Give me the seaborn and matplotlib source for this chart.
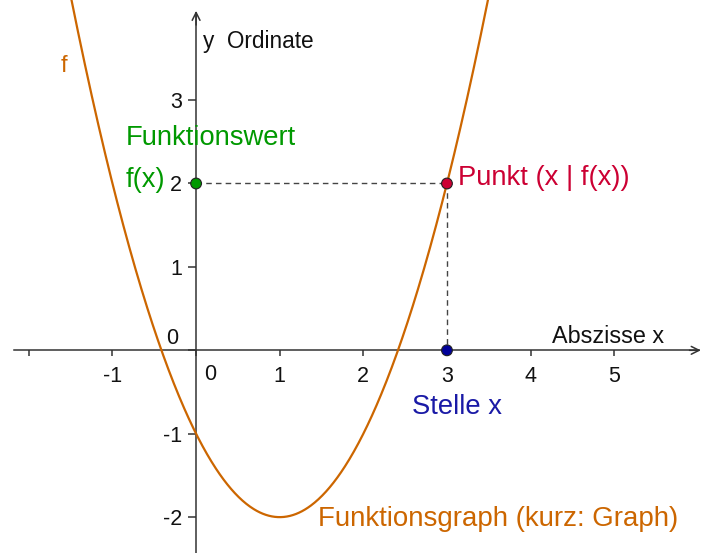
import numpy as np
import pandas as pd
import matplotlib
matplotlib.use("Agg")
import matplotlib.pyplot as plt
import seaborn as sns

# ---- data ----
coeffs = [1.0, -2.0, -1.0]          # f(x) = x^2 - 2x - 1
x_point = 3.0
fx_point = 2.0
xtick_vals = [-2, -1, 0, 1, 2, 3, 4, 5]
xtick_labels = ["", "-1", "", "1", "2", "3", "4", "5"]
ytick_vals = [-2, -1, 0, 1, 2, 3]
ytick_labels = ["-2", "-1", "", "1", "2", "3"]

ORANGE = "#CC6600"
GREEN = "#009900"
RED = "#CC0033"
BLUE = "#1A1AA6"
AXC = "#333333"

sns.set_style("white")
plt.rcParams["font.family"] = ["Liberation Sans", "DejaVu Sans"]

fig = plt.figure(figsize=(7.02, 5.53), dpi=100)
ax = fig.add_axes([0, 0, 1, 1])
XMIN, XMAX = -2.345, 6.05
YMIN, YMAX = -2.43, 4.2
ax.set_xlim(XMIN, XMAX)
ax.set_ylim(YMIN, YMAX)

# axes through origin
for s in ["top", "right"]:
    ax.spines[s].set_visible(False)
ax.spines["left"].set_position(("data", 0))
ax.spines["bottom"].set_position(("data", 0))
ax.spines["left"].set_bounds(YMIN, 4.05)
ax.spines["bottom"].set_bounds(-2.18, 6.02)
for s in ["left", "bottom"]:
    ax.spines[s].set_color(AXC)
    ax.spines[s].set_linewidth(1.1)
    ax.spines[s].set_zorder(1)

ax.annotate("", xy=(6.035, 0), xytext=(5.9, 0),
            arrowprops=dict(arrowstyle="->", color=AXC, lw=1.1,
                            mutation_scale=14, shrinkA=0, shrinkB=0))
ax.annotate("", xy=(0, 4.07), xytext=(0, 3.9),
            arrowprops=dict(arrowstyle="->", color=AXC, lw=1.1,
                            mutation_scale=14, shrinkA=0, shrinkB=0))

ax.set_xticks(xtick_vals, xtick_labels)
ax.set_yticks(ytick_vals, ytick_labels)
ax.tick_params(axis="x", bottom=True, direction="out", length=4, width=1.1, color=AXC,
               labelsize=15.5, pad=7, labelcolor="#111111")
ax.tick_params(axis="y", left=True, direction="out", length=6, width=1.1, color=AXC,
               labelsize=15.5, pad=4, labelcolor="#111111")
ax.text(-0.28, 0.14, "0", fontsize=15.5, ha="center", va="center", color="#111111")
ax.text(0.17, -0.29, "0", fontsize=15.5, ha="center", va="center", color="#111111")

# function graph
xs = np.linspace(-1.7, 3.7, 600)
df = pd.DataFrame({"x": xs, "y": np.polyval(coeffs, xs)})
sns.lineplot(data=df, x="x", y="y", color=ORANGE, linewidth=1.6, ax=ax, zorder=3)

# dashed helper lines
ax.plot([0, x_point], [fx_point, fx_point], ls=(0, (4, 3)), color="#444444", lw=1.0, zorder=2)
ax.plot([x_point, x_point], [fx_point, 0], ls=(0, (4, 3)), color="#444444", lw=1.0, zorder=2)

# points
pts = pd.DataFrame({"x": [0, x_point, x_point], "y": [fx_point, fx_point, 0],
                    "c": ["g", "r", "b"]})
sns.scatterplot(data=pts, x="x", y="y", hue="c",
                palette={"g": GREEN, "r": RED, "b": "#000099"},
                s=60, edgecolor="#222222", linewidth=0.8, legend=False, ax=ax, zorder=5)
ax.set_xlabel("")
ax.set_ylabel("")

# texts
ax.text(0.084, 3.70, "y  Ordinate", fontsize=16.3, ha="left", va="center", color="#111111")
ax.text(4.26, 0.17, "Abszisse x", fontsize=16.8, ha="left", va="center", color="#111111")
ax.text(-1.58, 3.41, "f", fontsize=17, ha="center", va="center", color=ORANGE)
ax.text(-0.837, 2.55, "Funktionswert", fontsize=19.7, ha="left", va="center", color=GREEN)
ax.text(-0.837, 2.04, "f(x)", fontsize=19.7, ha="left", va="center", color=GREEN)
ax.text(3.13, 2.07, "Punkt (x | f(x))", fontsize=19.7, ha="left", va="center", color=RED)
ax.text(2.58, -0.68, "Stelle x", fontsize=19.7, ha="left", va="center", color=BLUE)
ax.text(1.46, -2.02, "Funktionsgraph (kurz: Graph)", fontsize=19.9, ha="left",
        va="center", color=ORANGE)

fig.savefig("out.png", dpi=100)
